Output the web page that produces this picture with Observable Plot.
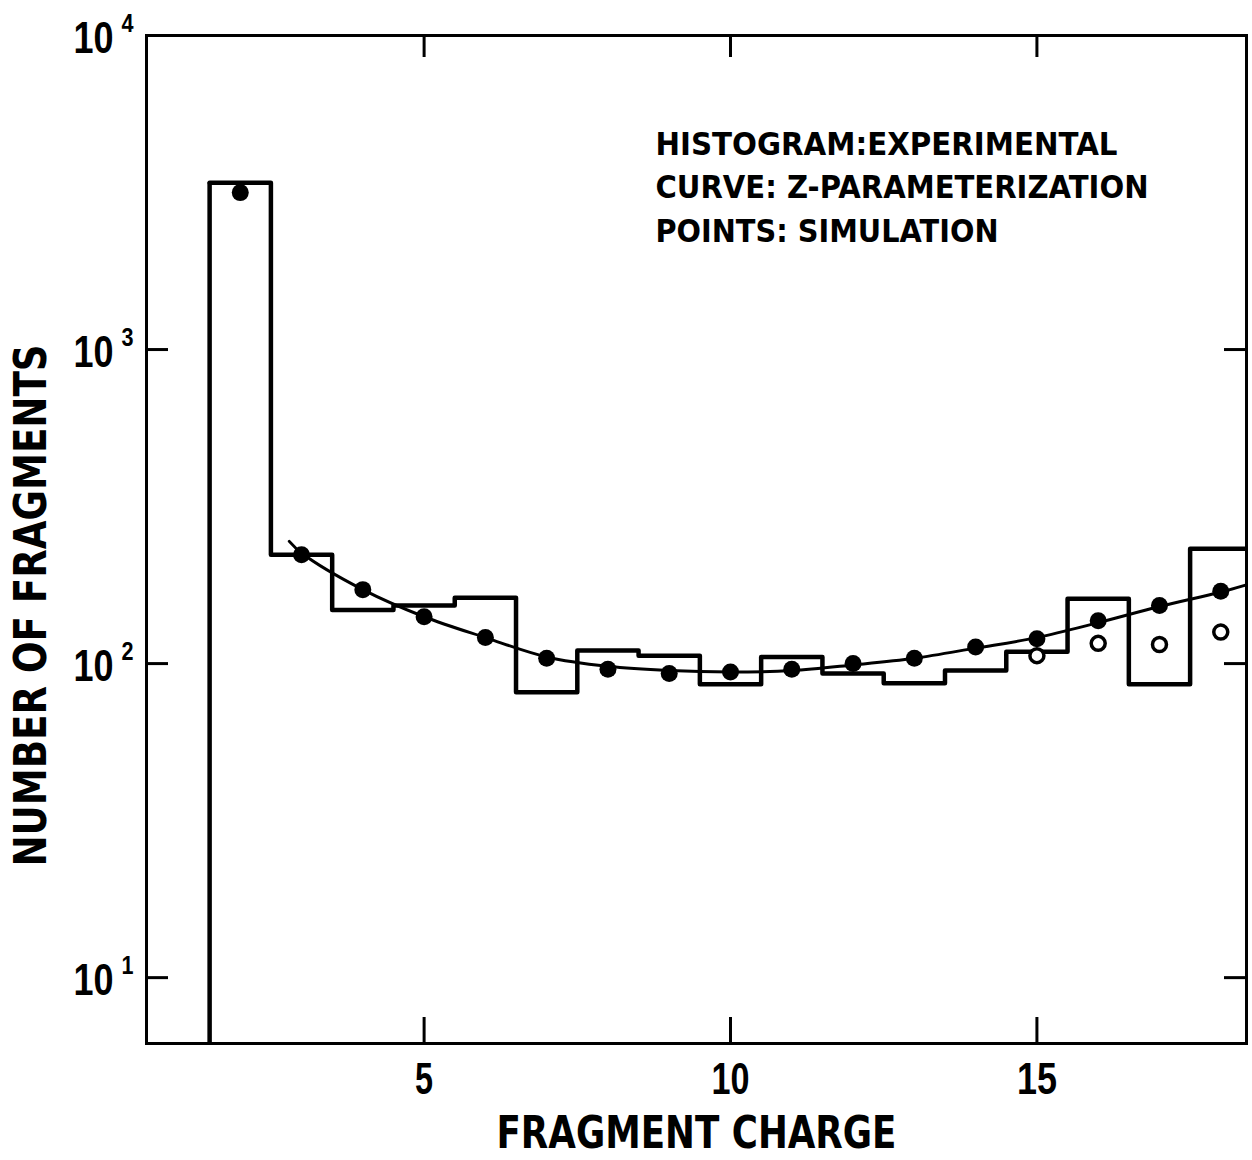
<!DOCTYPE html>
<html><head><meta charset="utf-8">
<script src="https://cdn.jsdelivr.net/npm/d3@7"></script>
<script src="https://cdn.jsdelivr.net/npm/@observablehq/plot@0.6"></script>
<style>
html,body{margin:0;padding:0;background:#fff;}
#chart svg{display:block;}
</style></head><body><div id="chart"></div>
<script>
// Histogram (experimental): fragment charge bins and counts
const binCharges = [2, 3, 4, 5, 6, 7, 8, 9, 10, 11, 12, 13, 14, 15, 16, 17, 18];
const binCounts  = [3400, 222, 148, 153, 162, 81, 110, 106, 86, 105, 93, 86.5, 95, 109, 161, 86, 232];

// Simulation points (filled)
const simCharges = [2, 3, 4, 5, 6, 7, 8, 9, 10, 11, 12, 13, 14, 15, 16, 17, 18];
const simCounts  = [3160, 222, 172, 141, 121, 104, 96, 93, 94, 96, 100, 104, 113, 120, 137, 153, 170];

// Simulation points (open)
const openCharges = [15, 16, 17, 18];
const openCounts  = [106, 116, 115, 126];

// Z-parameterization curve
const curveCharges = [2.8, 3, 4, 5, 6, 7, 8, 9, 10, 11, 12, 13, 14, 15, 16, 17, 18, 18.5];
const curveCounts  = [245, 225, 172, 141, 121, 105, 98, 95, 94, 95, 99, 104, 112, 121, 135, 152, 169, 180];

// Axis ticks
const xTicks = [5, 10, 15];
const yTickExps = [1, 2, 3, 4];

const legendLines = ["HISTOGRAM:EXPERIMENTAL", "CURVE: Z-PARAMETERIZATION", "POINTS: SIMULATION"];

const W = 1252, H = 1160;
const mL = 146, mR = 6, mT = 35, mB = 117;
const innerW = W - mL - mR, innerH = H - mT - mB;
const xDomain = [0.47, 18.42];
const yDomain = [6.17, 10000];
const FONT = "'DejaVu Sans', sans-serif";
const DIGIT_FONT = "'Liberation Sans', Arial, sans-serif";

const yTickVals = yTickExps.map(e => Math.pow(10, e));
const innerYTicks = yTickVals.filter(v => v < yDomain[1]);

// step outline of histogram: left edge of each bin, plus closing right edge
const stepData = binCharges.map((c, i) => ({x: c - 0.5, y: binCounts[i]}));
stepData.push({x: binCharges[binCharges.length - 1] + 0.5, y: binCounts[binCounts.length - 1]});

const simData = simCharges.map((c, i) => ({x: c, y: simCounts[i]}));
const openData = openCharges.map((c, i) => ({x: c, y: openCounts[i]}));
const curveData = curveCharges.map((c, i) => ({x: c, y: curveCounts[i]}));

const legendDy = [144, 187, 231];

const chart = Plot.plot({
  width: W, height: H,
  marginLeft: mL, marginRight: mR, marginTop: mT, marginBottom: mB,
  style: {fontFamily: FONT, background: "#fff", color: "#000", overflow: "visible"},
  x: {domain: xDomain, axis: null},
  y: {type: "log", domain: yDomain, axis: null},
  marks: [
    // histogram
    Plot.line(stepData, {x: "x", y: "y", curve: "step-after", stroke: "#000", strokeWidth: 4.5, clip: true}),
    Plot.ruleX([binCharges[0] - 0.5], {x: d => d, y1: yDomain[0], y2: binCounts[0], stroke: "#000", strokeWidth: 4.5}),
    // curve
    Plot.line(curveData, {x: "x", y: "y", curve: "catmull-rom", stroke: "#000", strokeWidth: 3, clip: true}),
    // simulation points
    Plot.dot(simData, {x: "x", y: "y", r: 8.5, fill: "#000", stroke: "none"}),
    Plot.dot(openData, {x: "x", y: "y", r: 7, fill: "#fff", stroke: "#000", strokeWidth: 3.5}),
    // frame
    Plot.frame({stroke: "#000", strokeWidth: 3}),
    // inward ticks
    Plot.tickY(innerYTicks, {y: d => d, insetRight: innerW - 22, stroke: "#000", strokeWidth: 3}),
    Plot.tickY(innerYTicks, {y: d => d, insetLeft: innerW - 22, stroke: "#000", strokeWidth: 3}),
    Plot.tickX(xTicks, {x: d => d, insetTop: innerH - 26, stroke: "#000", strokeWidth: 3}),
    Plot.tickX(xTicks, {x: d => d, insetBottom: innerH - 22, stroke: "#000", strokeWidth: 3}),
    // tick labels
    Plot.text(xTicks, {x: d => d, text: d => String(d), frameAnchor: "bottom", dy: 50, fontSize: 45, fontFamily: DIGIT_FONT, fontWeight: "bold", fill: "#000", ariaLabel: () => "xtick-label"}),
    Plot.text(yTickVals, {y: d => d, text: () => "10", frameAnchor: "left", dx: -33, dy: 3, textAnchor: "end", fontSize: 44, fontFamily: DIGIT_FONT, fontWeight: "bold", fill: "#000", ariaLabel: () => "ytick-base"}),
    Plot.text(yTickVals, {y: d => d, text: d => String(Math.round(Math.log10(d))), frameAnchor: "left", dx: -25, dy: -12, textAnchor: "start", fontSize: 25, fontFamily: DIGIT_FONT, fontWeight: "bold", fill: "#000", ariaLabel: () => "ytick-exp"}),
    // axis titles
    Plot.text(["FRAGMENT CHARGE"], {text: d => d, frameAnchor: "bottom", dy: 104, fontSize: 45, fill: "#000", fontWeight: "bold"}),
    Plot.text(["NUMBER OF FRAGMENTS"], {text: d => d, frameAnchor: "left", textAnchor: "middle", dx: -115, dy: 66, rotate: -90, fontSize: 45, fill: "#000", fontWeight: "bold"}),
    // legend text, one line per mark
    ...legendLines.map((line, i) => Plot.text([line], {text: d => d, frameAnchor: "top-left", dx: 655 - mL, dy: legendDy[i] - mT, textAnchor: "start", lineAnchor: "middle", fontSize: 32, fontWeight: "bold", fill: "#000"}))
  ]
});

// condense lettering to match the narrow plotter font of the original
const textWidths = {
  "FRAGMENT CHARGE": 400,
  "NUMBER OF FRAGMENTS": 522,
  "HISTOGRAM:EXPERIMENTAL": 462,
  "CURVE: Z-PARAMETERIZATION": 493,
  "POINTS: SIMULATION": 343
};
const xTickWidths = {"5": 18, "10": 38, "15": 40};
chart.querySelectorAll("text").forEach(t => {
  const role = t.getAttribute("aria-label") || "";
  const s = t.textContent;
  let w = null;
  if (role === "xtick-label") w = xTickWidths[s];
  else if (role === "ytick-base") w = 40;
  else if (role === "ytick-exp") w = 12;
  else if (textWidths[s] != null) w = textWidths[s];
  if (w != null) {
    t.setAttribute("textLength", w);
    t.setAttribute("lengthAdjust", "spacingAndGlyphs");
  }
});
document.getElementById("chart").appendChild(chart);
</script>
</body></html>
